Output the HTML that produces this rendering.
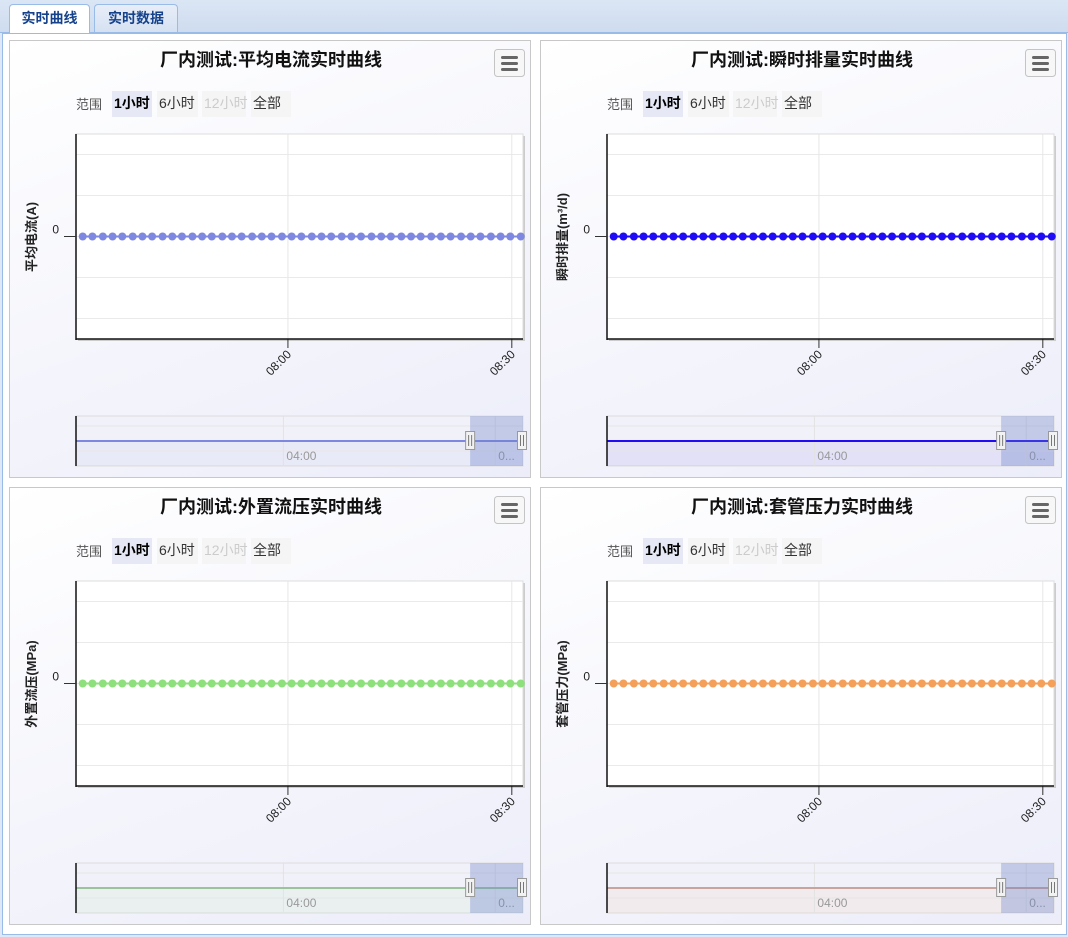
<!DOCTYPE html>
<html><head><meta charset="utf-8">
<style>
html,body{margin:0;padding:0;width:1068px;height:937px;overflow:hidden;background:#dfe8f6;font-family:"Liberation Sans","Noto Sans CJK SC",sans-serif;}
#tabbar{position:absolute;left:0;top:0;width:1068px;height:32px;background:linear-gradient(#dbe6f5,#cfdcef);border-bottom:1px solid #99bbe8;}
.tab{position:absolute;top:4px;height:27px;border:1px solid #99bbe8;border-bottom:none;border-radius:4px 4px 0 0;font-size:14px;font-weight:bold;color:#15428b;text-align:center;line-height:27px;background:linear-gradient(#e8eef8,#d5e1f2);}
#body{position:absolute;left:2px;top:33px;width:1063px;height:900px;background:#fff;border:1px solid #99bbe8;}
.panel{position:absolute;width:520px;height:436px;border:1px solid #c8c8c8;background:linear-gradient(160deg,#ffffff,#ecedf9);}
svg text{font-family:"Liberation Sans","Noto Sans CJK SC",sans-serif;}
</style></head><body>
<div id="tabbar">
<div class="tab" style="left:9px;width:79px;background:#fff;height:28px;">实时曲线</div>
<div class="tab" style="left:94px;width:82px;">实时数据</div>
</div>
<div id="body"></div>
<script>
const times=[452.5,453.8,455.2,456.5,457.8,459.2,460.5,461.8,463.2,464.5,465.8,467.2,468.5,469.8,471.2,472.5,473.8,475.2,476.5,477.8,479.2,480.5,481.8,483.2,484.5,485.8,487.2,488.5,489.8,491.2,492.5,493.8,495.2,496.5,497.8,499.2,500.5,501.8,503.2,504.5,505.8,507.2,508.5,509.8,511.2];
const currentValues=[0,0,0,0,0,0,0,0,0,0,0,0,0,0,0,0,0,0,0,0,0,0,0,0,0,0,0,0,0,0,0,0,0,0,0,0,0,0,0,0,0,0,0,0,0];
const flowValues=[0,0,0,0,0,0,0,0,0,0,0,0,0,0,0,0,0,0,0,0,0,0,0,0,0,0,0,0,0,0,0,0,0,0,0,0,0,0,0,0,0,0,0,0,0];
const pressureValues=[0,0,0,0,0,0,0,0,0,0,0,0,0,0,0,0,0,0,0,0,0,0,0,0,0,0,0,0,0,0,0,0,0,0,0,0,0,0,0,0,0,0,0,0,0];
const casingValues=[0,0,0,0,0,0,0,0,0,0,0,0,0,0,0,0,0,0,0,0,0,0,0,0,0,0,0,0,0,0,0,0,0,0,0,0,0,0,0,0,0,0,0,0,0];
const xTickMinutes=[480,510];
const xTickLabels=["08:00","08:30"];
const navTickMinutes=[240,480];
const navTickLabels=["04:00","0..."];
const yTicks=[-2,-1,0,1,2];
const chartTitles=["厂内测试:平均电流实时曲线","厂内测试:瞬时排量实时曲线","厂内测试:外置流压实时曲线","厂内测试:套管压力实时曲线"];
const yTitles=["平均电流(A)","瞬时排量(m³/d)","外置流压(MPa)","套管压力(MPa)"];
const seriesColors=["#7f88e0","#1f0bf5","#8ee07c","#f5a05a"];
const navColors=["#7f88e0","#1f0bf5","#9cc49c","#c9a49c"];
const seriesData=[currentValues,flowValues,pressureValues,casingValues];

const NS="http://www.w3.org/2000/svg";
function mk(parent,tag,attrs,text){const e=document.createElementNS(NS,tag);for(const k in attrs)e.setAttribute(k,attrs[k]);if(text!==undefined)e.textContent=text;parent.appendChild(e);return e;}
const PL=66,PR=513,PT=93,PB=298;
const xMin=451.6,xMax=511.5,yMin=-2.5,yMax=2.5;
function xs(m){return PL+(m-xMin)/(xMax-xMin)*(PR-PL);}
function ys(v){return PB-(v-yMin)/(yMax-yMin)*(PB-PT);}
const nMin=5,nMax=511.5;
function nx(m){return PL+(m-nMin)/(nMax-nMin)*(PR-PL);}
const body=document.getElementById('body');
const pos=[[6,6],[537,6],[6,453],[537,453]];
for(let c=0;c<4;c++){
 const p=document.createElement('div');p.className='panel';
 p.style.left=pos[c][0]+'px';p.style.top=pos[c][1]+'px';
 
 
 body.appendChild(p);
 const s=mk(p,'svg',{width:520,height:436,style:'position:absolute;left:0;top:0'});
 const t=mk(s,'text',{x:261,y:25,'text-anchor':'middle','font-size':18,'font-weight':'bold',fill:'#111'},chartTitles[c]);
 
 const mb=mk(s,'g',{});
 
 mk(mb,'rect',{x:484.5,y:8.5,width:30,height:27,rx:3,fill:'#f7f7f7',stroke:'#c4c4c4'});
 for(let i=0;i<3;i++)mk(mb,'rect',{x:491,y:15+i*6,width:17,height:3,rx:1.5,fill:'#666'});
 mk(s,'text',{x:66,y:68,'font-size':13,fill:'#555'},'范围');
 const btns=[["1小时",102,40,'#e6e9f5','#000','bold'],["6小时",147,41,'#f5f5f5','#333','normal'],["12小时",192,44,'#f5f5f5','#ccc','normal'],["全部",241,40,'#f5f5f5','#333','normal']];
 btns.forEach((b,i)=>{const g=mk(s,'g',{});
  
  mk(g,'rect',{x:b[1],y:50,width:b[2],height:26,fill:b[3]});
  mk(g,'text',{x:b[1]+2,y:67,'font-size':14,fill:b[4],'font-weight':b[5]},b[0]);});
 mk(s,'rect',{x:PL+2,y:PT+2,width:PR-PL,height:PB-PT,fill:'#ccc'});
 mk(s,'rect',{x:PL,y:PT,width:PR-PL,height:PB-PT,fill:'#fff',stroke:'#ddd'});
 yTicks.forEach(v=>mk(s,'line',{x1:PL,x2:PR,y1:ys(v),y2:ys(v),stroke:'#eaeaea'}));
 xTickMinutes.forEach((m,i)=>{const x=xs(m);
  mk(s,'line',{x1:x,x2:x,y1:PT,y2:PB,stroke:'#e6e6e6'});
  mk(s,'line',{x1:x,x2:x,y1:PB,y2:PB+9,stroke:'#333'});
  const l=mk(s,'text',{x:x+4,y:PB+16,'font-size':12,fill:'#222','text-anchor':'end',transform:`rotate(-45 ${x+4} ${PB+16})`},xTickLabels[i]);
  });
 mk(s,'line',{x1:PL,x2:PL,y1:PT,y2:PB+1,stroke:'#111','stroke-width':1.5});
 mk(s,'line',{x1:PL,x2:PR,y1:PB,y2:PB,stroke:'#111','stroke-width':1.5});
 mk(s,'line',{x1:PL-12,x2:PL,y1:ys(0),y2:ys(0),stroke:'#333'});
 mk(s,'text',{x:PL-17,y:ys(0)-3,'font-size':12,fill:'#222','text-anchor':'end'},'0');
 const yt=mk(s,'text',{x:26,y:196,'font-size':13,'font-weight':'bold',fill:'#222','text-anchor':'middle',transform:'rotate(-90 26 196)'},yTitles[c]);
 
 const vals=seriesData[c];
 let d='';times.forEach((m,i)=>{d+=(i?'L':'M')+xs(m)+' '+ys(vals[i]);});
 const ln=mk(s,'path',{d:d,stroke:seriesColors[c],'stroke-width':2,fill:'none'});
 
 times.forEach((m,i)=>{const pt=mk(s,'circle',{cx:xs(m),cy:ys(vals[i]),r:4,fill:seriesColors[c]});
  
  });
 // navigator
 const NT=375,NB=425,NY=400;
 const nav=mk(s,'g',{});
 
 mk(nav,'rect',{x:PL,y:NT,width:PR-PL,height:NB-NT,fill:'#f1f1f9',stroke:'#ddd'});
 mk(nav,'rect',{x:PL,y:NY,width:PR-PL,height:NB-NY,fill:seriesColors[c],opacity:0.07});
 [385,410].forEach(y=>mk(nav,'line',{x1:PL,x2:PR,y1:y,y2:y,stroke:'#e6e6e6'}));
 navTickMinutes.forEach((m,i)=>{const x=nx(m);
  mk(nav,'line',{x1:x,x2:x,y1:NT,y2:NB,stroke:'#e2e2e2'});
  mk(nav,'text',{x:x+3,y:419,'font-size':12,fill:'#999'},navTickLabels[i]);});
 mk(nav,'line',{x1:PL,x2:PR,y1:NY,y2:NY,stroke:navColors[c],'stroke-width':2});
 const mx=nx(times[0]-0.9);
 mk(nav,'rect',{x:mx,y:NT,width:PR-mx,height:NB-NT,fill:'#6a80c8',opacity:0.35});
 mk(nav,'line',{x1:PL,x2:PL,y1:NT,y2:NB,stroke:'#111','stroke-width':1.5});
 [mx,PR-1].forEach(hx=>{const h=mk(nav,'g',{});
  
  mk(h,'rect',{x:hx-4.5,y:390.5,width:9,height:18,fill:'#f2f2f2',stroke:'#999'});
  mk(h,'line',{x1:hx-1.5,x2:hx-1.5,y1:394,y2:405,stroke:'#777'});
  mk(h,'line',{x1:hx+1.5,x2:hx+1.5,y1:394,y2:405,stroke:'#777'});});
}
</script>
</body></html>
